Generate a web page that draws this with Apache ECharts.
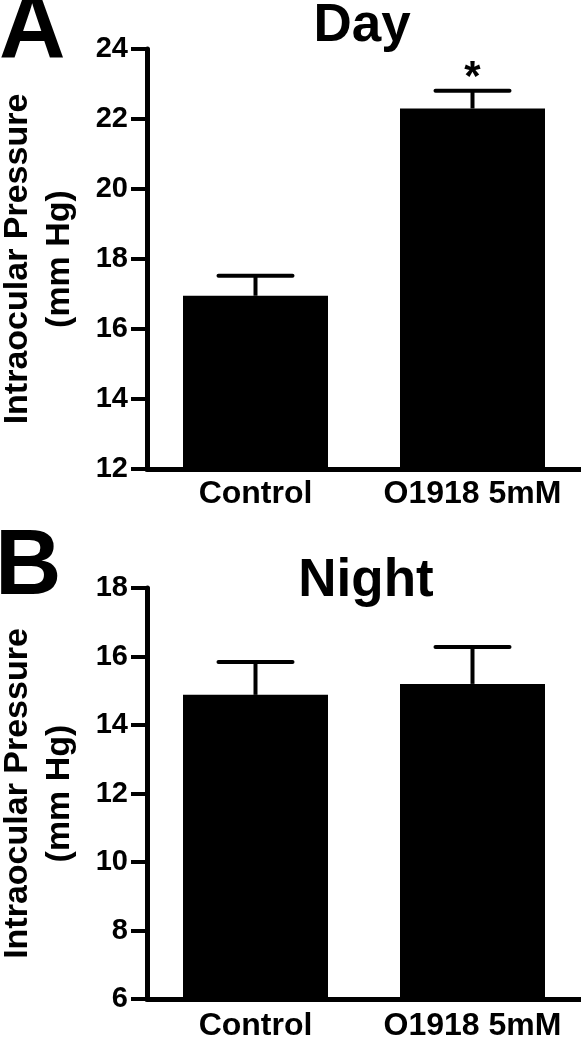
<!DOCTYPE html>
<html>
<head>
<meta charset="utf-8">
<script src="https://cdn.jsdelivr.net/npm/echarts@6/dist/echarts.min.js"></script>
<style>
  html, body { margin: 0; padding: 0; background: #fff; }
  #chart { width: 581px; height: 1039px; }
</style>
</head>
<body>
<div id="chart"></div>
<script>
// data (mean + SEM, mm Hg)
const categories = ['Control', 'O1918 5mM']
const dayMean = [16.95, 22.3]
const daySem = [0.57, 0.51]
const daySig = ['', '*']
const nightMean = [14.88, 15.2]
const nightSem = [0.96, 1.08]
const nightSig = ['', '']
const dayRange = [12, 24]
const nightRange = [6, 18]
const tickStep = 2
const yName = 'Intraocular Pressure\n(mm Hg)'

const FONT = '"Liberation Sans", Arial, sans-serif'

const chart = echarts.init(document.getElementById('chart'))

const makeXAxis = (gridIndex, margin) => ({
  type: 'category',
  gridIndex,
  data: categories,
  axisLine: { lineStyle: { color: '#000', width: 5 } },
  axisTick: { show: false },
  axisLabel: { interval: 0, hideOverlap: false, color: '#000', fontSize: 32, fontWeight: 'bold', fontFamily: FONT, margin }
})

const makeYAxis = (gridIndex, range) => ({
  type: 'value',
  gridIndex,
  min: range[0],
  max: range[1],
  interval: tickStep,
  name: yName,
  nameLocation: 'middle',
  nameRotate: 90,
  nameGap: 66,
  nameTextStyle: { color: '#000', fontSize: 34, fontWeight: 'bold', fontFamily: FONT, lineHeight: 42 },
  axisLine: { show: true, lineStyle: { color: '#000', width: 5 } },
  axisTick: { show: true, length: 16, lineStyle: { color: '#000', width: 4 } },
  axisLabel: { color: '#000', fontSize: 29, fontWeight: 'bold', fontFamily: FONT, margin: 19 },
  splitLine: { show: false }
})

// error bar (upper only) + optional significance mark
const errRender = (sig) => function (params, api) {
  const i = api.value(0)
  const mean = api.value(1)
  const sem = api.value(2)
  const base = api.coord([i, mean])
  const top = api.coord([i, mean + sem])
  const half = 37
  const line = { stroke: '#000', lineWidth: 4 }
  const children = [
    { type: 'line', shape: { x1: base[0], y1: base[1], x2: top[0], y2: top[1] }, style: line },
    { type: 'line', shape: { x1: top[0] - half, y1: top[1], x2: top[0] + half, y2: top[1] }, style: Object.assign({ lineCap: 'round' }, line) }
  ]
  const mark = sig[params.dataIndex]
  if (mark) {
    children.push({
      type: 'text',
      x: top[0],
      y: top[1] - 12,
      style: { text: mark, fill: '#000', font: 'bold 42px ' + FONT, align: 'center', verticalAlign: 'middle' }
    })
  }
  return { type: 'group', children }
}

const barSeries = (idx, values) => ({
  type: 'bar',
  xAxisIndex: idx,
  yAxisIndex: idx,
  data: values,
  barWidth: 145,
  itemStyle: { color: '#000' },
  silent: true
})

const errSeries = (idx, mean, sem, sig) => ({
  type: 'custom',
  xAxisIndex: idx,
  yAxisIndex: idx,
  data: mean.map((m, i) => [i, m, sem[i]]),
  renderItem: errRender(sig),
  z: 5,
  silent: true
})

const textEl = (text, x, y, size, align) => ({
  type: 'text',
  x,
  y,
  style: { text, fill: '#000', font: 'bold ' + size + 'px ' + FONT, align, verticalAlign: 'middle' }
})

const option = {
  animation: false,
  backgroundColor: '#fff',
  grid: [
    { left: 147, right: 0, top: 49, bottom: 570, outerBoundsMode: 'none', containLabel: false },
    { left: 147, right: 0, top: 588, bottom: 40, outerBoundsMode: 'none', containLabel: false }
  ],
  xAxis: [makeXAxis(0, 9), makeXAxis(1, 11)],
  yAxis: [makeYAxis(0, dayRange), makeYAxis(1, nightRange)],
  graphic: [
    textEl('A', -1, 32, 92, 'left'),
    textEl('Day', 362, 26, 53, 'center'),
    textEl('B', -5, 569, 92, 'left'),
    textEl('Night', 366, 581, 53, 'center')
  ],
  series: [
    barSeries(0, dayMean),
    errSeries(0, dayMean, daySem, daySig),
    barSeries(1, nightMean),
    errSeries(1, nightMean, nightSem, nightSig)
  ]
}

chart.setOption(option)
</script>
</body>
</html>
